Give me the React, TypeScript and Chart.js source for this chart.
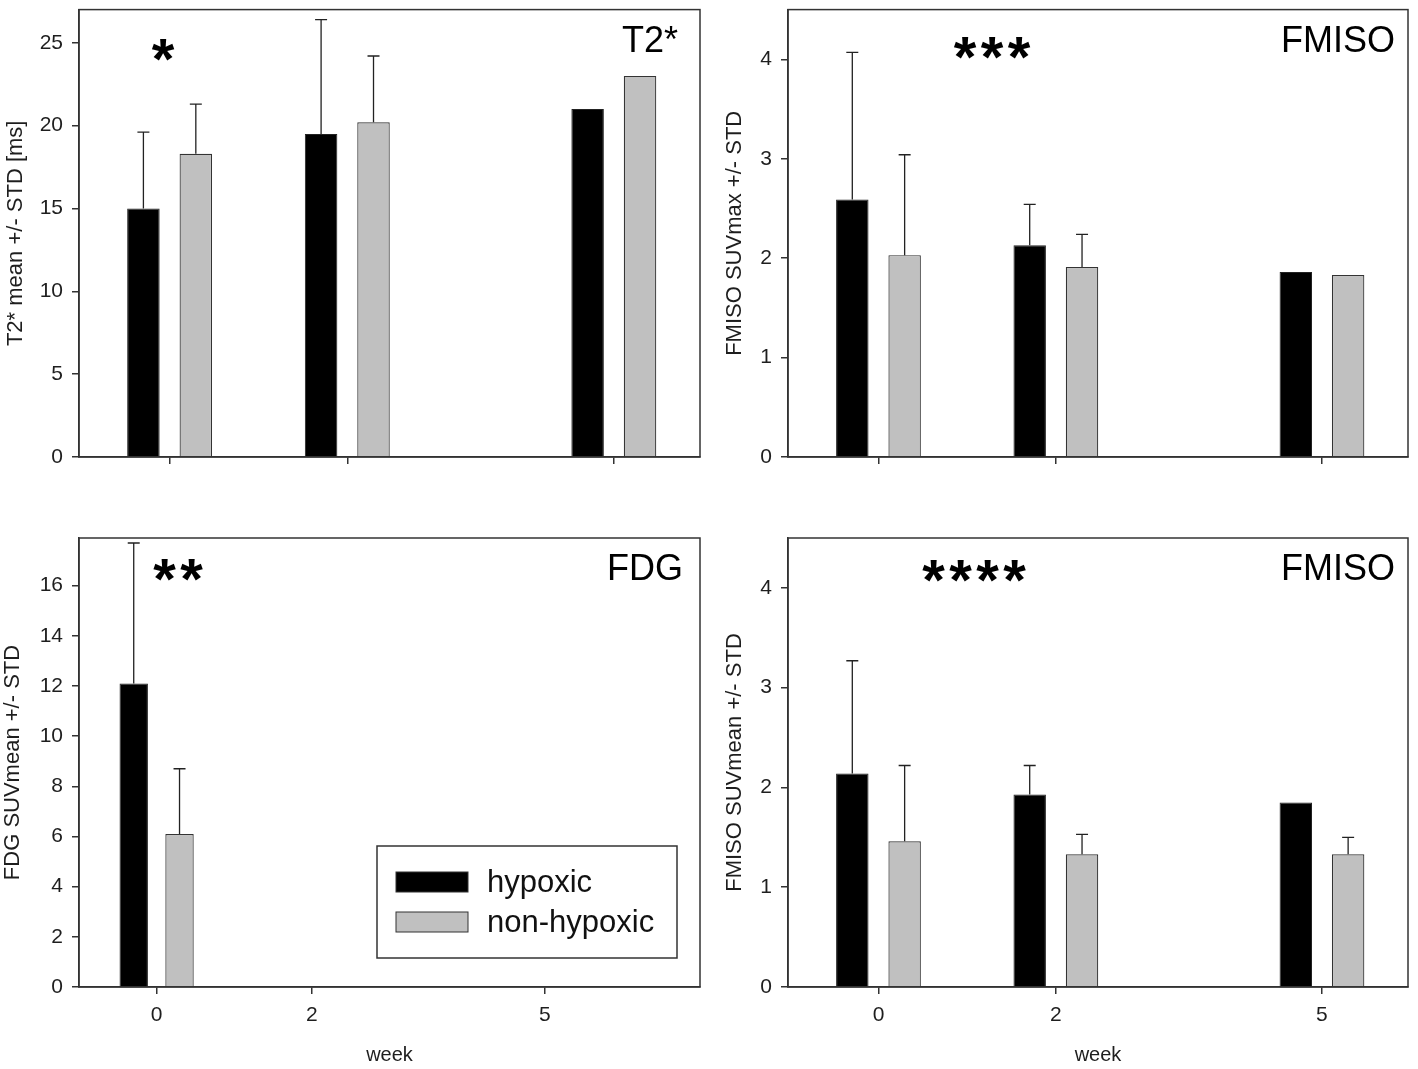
import React, { useEffect, useRef } from "react";
import { Chart, registerables } from "chart.js";

Chart.register(...registerables);

// ---------- data ----------
const weeks = [0, 2, 5];
const seriesLabels = ["hypoxic", "non-hypoxic"];

const t2Hypoxic = [15.0, 19.5, 21.0];
const t2HypoxicStd = [4.6, 6.9, null];
const t2NonHypoxic = [18.3, 20.2, 23.0];
const t2NonHypoxicStd = [3.0, 4.0, null];
const t2Ticks = [0, 5, 10, 15, 20, 25];

const fmisoMaxHypoxic = [2.59, 2.13, 1.86];
const fmisoMaxHypoxicStd = [1.48, 0.41, null];
const fmisoMaxNonHypoxic = [2.03, 1.91, 1.83];
const fmisoMaxNonHypoxicStd = [1.01, 0.33, null];
const fmisoTicks = [0, 1, 2, 3, 4];

const fdgHypoxic = [12.1, null, null];
const fdgHypoxicStd = [5.6, null, null];
const fdgNonHypoxic = [6.1, null, null];
const fdgNonHypoxicStd = [2.6, null, null];
const fdgTicks = [0, 2, 4, 6, 8, 10, 12, 14, 16];

const fmisoMeanHypoxic = [2.14, 1.93, 1.85];
const fmisoMeanHypoxicStd = [1.13, 0.29, null];
const fmisoMeanNonHypoxic = [1.46, 1.33, 1.33];
const fmisoMeanNonHypoxicStd = [0.76, 0.2, 0.17];

// ---------- styles ----------
const FONT = '"Liberation Sans", Arial, sans-serif';
const AXIS = "#333333";
const TEXT = "#1e1e1e";
const HYP_COLOR = "#000000";
const NON_COLOR = "#c0c0c0";

Chart.defaults.font.family = FONT;

const framePlugin = {
  id: "frame",
  afterDraw(chart: any) {
    const { ctx, chartArea: a } = chart;
    ctx.save();
    ctx.strokeStyle = AXIS;
    ctx.lineWidth = 1.5;
    ctx.strokeRect(a.left, a.top, a.right - a.left, a.bottom - a.top);
    ctx.restore();
  },
};

const errorBarPlugin = {
  id: "errorBars",
  afterDatasetsDraw(chart: any) {
    const { ctx } = chart;
    const yScale = chart.scales.y;
    ctx.save();
    ctx.strokeStyle = "#222";
    ctx.lineWidth = 1.3;
    chart.data.datasets.forEach((ds: any, i: number) => {
      const meta = chart.getDatasetMeta(i);
      meta.data.forEach((bar: any, j: number) => {
        const v = ds.data[j].y;
        const s = ds.std ? ds.std[j] : null;
        if (v == null || s == null) return;
        const yTop = yScale.getPixelForValue(v + s);
        ctx.beginPath();
        ctx.moveTo(bar.x, bar.y);
        ctx.lineTo(bar.x, yTop);
        ctx.moveTo(bar.x - 6, yTop);
        ctx.lineTo(bar.x + 6, yTop);
        ctx.stroke();
      });
    });
    ctx.restore();
  },
};

const textPlugin = {
  id: "panelText",
  afterDraw(chart: any, _args: any, opts: any) {
    const { ctx, chartArea: a } = chart;
    ctx.save();
    ctx.fillStyle = "#000";
    // panel label
    ctx.font = `36px ${FONT}`;
    ctx.textAlign = "right";
    ctx.textBaseline = "alphabetic";
    ctx.fillText(opts.label, a.right - opts.labelInset, a.top + 42);
    // significance stars
    ctx.font = `bold 58px ${FONT}`;
    ctx.textAlign = "center";
    const n = opts.stars;
    for (let k = 0; k < n; k++) {
      const cx = a.left + opts.starsX + (k - (n - 1) / 2) * 27;
      ctx.fillText("*", cx, a.top + opts.starsY + 31);
    }
    // legend
    if (opts.legend) {
      const bx = a.left + 298;
      const by = a.bottom - 141;
      ctx.strokeStyle = AXIS;
      ctx.lineWidth = 1.5;
      ctx.strokeRect(bx, by, 300, 112);
      ctx.font = `31px ${FONT}`;
      ctx.textAlign = "left";
      ctx.textBaseline = "middle";
      chart.data.datasets.forEach((ds: any, i: number) => {
        const sy = by + 26 + i * 40;
        ctx.fillStyle = ds.backgroundColor;
        ctx.fillRect(bx + 19, sy, 72, 20);
        ctx.strokeStyle = "#333";
        ctx.lineWidth = 1;
        ctx.strokeRect(bx + 19, sy, 72, 20);
        ctx.fillStyle = "#111";
        ctx.fillText(ds.label, bx + 110, sy + 11);
      });
    }
    ctx.restore();
  },
};

type PanelSpec = {
  left: number;
  top: number;
  width: number;
  height: number;
  padTop: number;
  padRight: number;
  xAxisHeight: number;
  xMin: number;
  xMax: number;
  yMax: number;
  yTicks: number[];
  yTitle: string;
  yTitlePad: number;
  hyp: (number | null)[];
  hypStd: (number | null)[];
  non: (number | null)[];
  nonStd: (number | null)[];
  showXLabels: boolean;
  label: string;
  labelInset: number;
  stars: number;
  starsX: number;
  starsY: number;
  legend: boolean;
};

const panels: PanelSpec[] = [
  {
    left: 0, top: -12, width: 709, height: 512, padTop: 20, padRight: 9, xAxisHeight: 43,
    xMin: -1.02, xMax: 5.97, yMax: 27, yTicks: t2Ticks, yTitle: "T2* mean +/- STD [ms]", yTitlePad: 3,
    hyp: t2Hypoxic, hypStd: t2HypoxicStd, non: t2NonHypoxic, nonStd: t2NonHypoxicStd,
    showXLabels: false, label: "T2*", labelInset: 22, stars: 1, starsX: 84, starsY: 38, legend: false,
  },
  {
    left: 709, top: -12, width: 709, height: 512, padTop: 20, padRight: 10, xAxisHeight: 43,
    xMin: -1.02, xMax: 5.97, yMax: 4.5, yTicks: fmisoTicks, yTitle: "FMISO SUVmax +/- STD", yTitlePad: 13,
    hyp: fmisoMaxHypoxic, hypStd: fmisoMaxHypoxicStd, non: fmisoMaxNonHypoxic, nonStd: fmisoMaxNonHypoxicStd,
    showXLabels: false, label: "FMISO", labelInset: 13, stars: 3, starsX: 204, starsY: 36, legend: false,
  },
  {
    left: 0, top: 500, width: 709, height: 569, padTop: 38, padRight: 9, xAxisHeight: 82,
    xMin: -1, xMax: 7, yMax: 17.9, yTicks: fdgTicks, yTitle: "FDG SUVmean +/- STD", yTitlePad: 0,
    hyp: fdgHypoxic, hypStd: fdgHypoxicStd, non: fdgNonHypoxic, nonStd: fdgNonHypoxicStd,
    showXLabels: true, label: "FDG", labelInset: 17, stars: 2, starsX: 99, starsY: 30, legend: true,
  },
  {
    left: 709, top: 500, width: 709, height: 569, padTop: 38, padRight: 10, xAxisHeight: 82,
    xMin: -1.02, xMax: 5.97, yMax: 4.5, yTicks: fmisoTicks, yTitle: "FMISO SUVmean +/- STD", yTitlePad: 13,
    hyp: fmisoMeanHypoxic, hypStd: fmisoMeanHypoxicStd, non: fmisoMeanNonHypoxic, nonStd: fmisoMeanNonHypoxicStd,
    showXLabels: true, label: "FMISO", labelInset: 13, stars: 4, starsX: 186, starsY: 31, legend: false,
  },
];

function Panel({ p }: { p: PanelSpec }) {
  const ref = useRef<HTMLCanvasElement | null>(null);
  useEffect(() => {
    if (!ref.current) return;
    const chart = new Chart(ref.current, {
      type: "bar",
      data: {
        datasets: [
          {
            label: seriesLabels[0],
            data: weeks.map((w, i) => ({ x: w, y: p.hyp[i] })),
            backgroundColor: HYP_COLOR,
            borderColor: "#222",
            borderWidth: 1,
            std: p.hypStd,
          } as any,
          {
            label: seriesLabels[1],
            data: weeks.map((w, i) => ({ x: w, y: p.non[i] })),
            backgroundColor: NON_COLOR,
            borderColor: "#333",
            borderWidth: 1.2,
            std: p.nonStd,
          } as any,
        ],
      },
      options: {
        responsive: false,
        animation: false,
        devicePixelRatio: 1,
        datasets: { bar: { categoryPercentage: 0.59, barPercentage: 0.62 } } as any,
        layout: { padding: { top: p.padTop, right: p.padRight, left: 0, bottom: 0 } },
        plugins: {
          legend: { display: false },
          tooltip: { enabled: false },
          panelText: {
            label: p.label,
            labelInset: p.labelInset,
            stars: p.stars,
            starsX: p.starsX,
            starsY: p.starsY,
            legend: p.legend,
          },
        } as any,
        scales: {
          x: {
            type: "linear",
            min: p.xMin,
            max: p.xMax,
            offset: false,
            afterBuildTicks: (s: any) => {
              s.ticks = weeks.map((v) => ({ value: v }));
            },
            afterFit: (s: any) => {
              s.height = p.xAxisHeight;
            },
            grid: {
              drawOnChartArea: false,
              drawTicks: true,
              tickLength: 7,
              color: AXIS,
              lineWidth: 1.5,
              offset: false,
            },
            border: { display: true, color: AXIS, width: 1.5 },
            ticks: {
              display: p.showXLabels,
              font: { size: 21, family: FONT },
              color: TEXT,
              padding: 9,
              maxRotation: 0,
              autoSkip: false,
              callback: (v: any) => String(v),
            },
            title: {
              display: p.showXLabels,
              text: "week",
              font: { size: 20, family: FONT },
              color: TEXT,
              padding: { top: 0, bottom: 2 },
            },
          },
          y: {
            type: "linear",
            min: 0,
            max: p.yMax,
            afterBuildTicks: (s: any) => {
              s.ticks = p.yTicks.map((v) => ({ value: v }));
            },
            afterFit: (s: any) => {
              s.width = 79;
            },
            grid: {
              drawOnChartArea: false,
              drawTicks: true,
              tickLength: 7,
              color: AXIS,
              lineWidth: 1.5,
            },
            border: { display: true, color: AXIS, width: 1.5 },
            ticks: {
              font: { size: 21, family: FONT },
              color: TEXT,
              padding: 9,
              callback: (v: any) => String(v),
            },
            title: {
              display: true,
              text: p.yTitle,
              font: { size: 22, family: FONT },
              color: TEXT,
              padding: { top: p.yTitlePad, bottom: 0 },
            },
          },
        },
      } as any,
      plugins: [framePlugin, errorBarPlugin, textPlugin],
    });
    return () => chart.destroy();
  }, [p]);
  return (
    <canvas
      ref={ref}
      width={p.width}
      height={p.height}
      style={{ position: "absolute", left: p.left, top: p.top, width: p.width, height: p.height }}
    />
  );
}

export default function App() {
  return (
    <div
      style={{
        position: "absolute",
        left: 0,
        top: 0,
        width: 1418,
        height: 1069,
        background: "#fff",
        overflow: "hidden",
      }}
    >
      {panels.map((p, i) => (
        <Panel key={i} p={p} />
      ))}
    </div>
  );
}
